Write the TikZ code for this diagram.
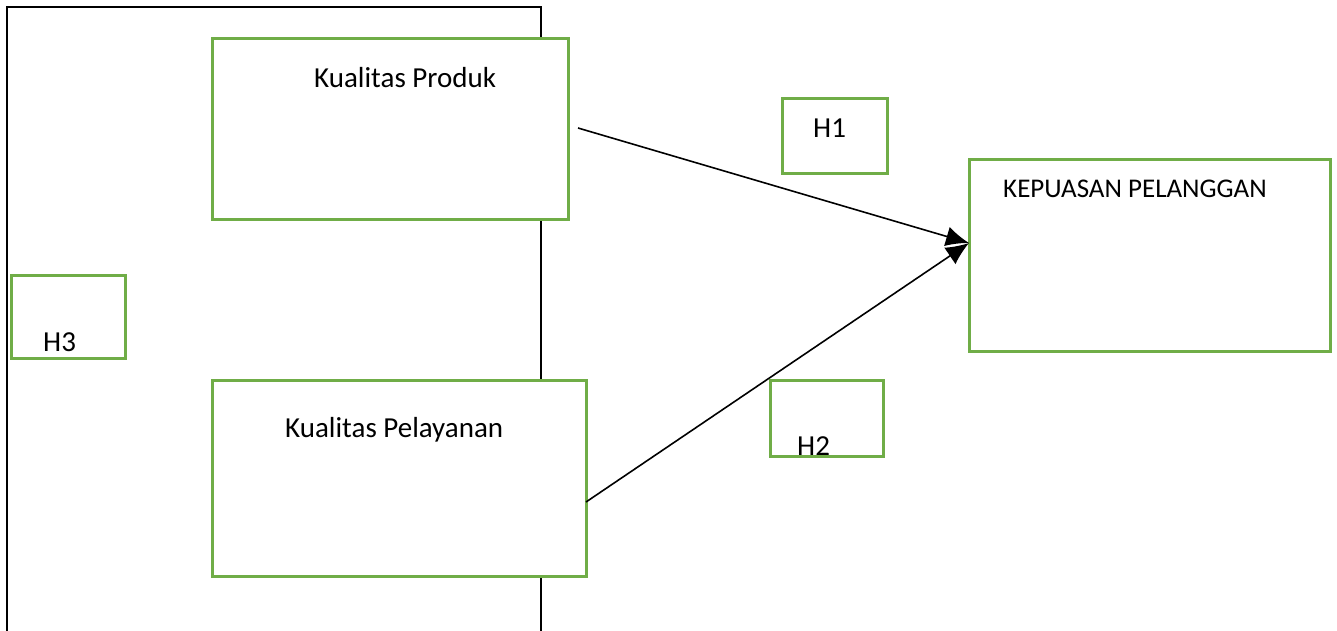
\documentclass[tikz,border=0pt]{standalone}
\usepackage{fontspec}
\setmainfont{Carlito}
\usetikzlibrary{arrows.meta}
\definecolor{boxgreen}{RGB}{112,173,71}
\tikzset{
  gbox/.style={draw=boxgreen, line width=3pt},
  lbl/.style={anchor=base west, inner sep=0pt, font=\fontsize{29}{34}\selectfont},
  conn/.style={draw=black, line width=1.6pt, -{Latex[length=23pt,width=20pt]}},
  frame/.style={draw=black, line width=2pt}
}
\begin{document}
\begin{tikzpicture}[x=1pt,y=-1pt]
\useasboundingbox (0,0) rectangle (1337,631);
% black frame (open at bottom)
\draw[frame] (7,640) -- (7,7) -- (541,7) -- (541,640);
% boxes
\filldraw[gbox, fill=white] (212,39) rectangle (568,219);
\filldraw[gbox, fill=white] (212,380) rectangle (586,576);
\draw[gbox] (782,99) rectangle (887,174);
\draw[gbox] (969,160) rectangle (1330,351);
\draw[gbox] (11,275) rectangle (125,358);
\draw[gbox] (770,380) rectangle (883,456);
% texts
\node[lbl] (tprod) at (314,88) {Kualitas Produk};
\node[lbl] (tpel) at (285,437) {Kualitas Pelayanan};
\node[lbl, font=\fontsize{27}{32}\selectfont] (tkep) at (1003,197) {KEPUASAN PELANGGAN};
\node[lbl] (th1) at (813,138) {H1};
\node[lbl] (th2) at (797,455) {H2};
\node[lbl] (th3) at (43,351) {H3};
% connectors
\coordinate (s1) at (578,128);
\coordinate (s2) at (586,502);
\coordinate (tip) at (969,243);
\draw[conn] (s1) -- (tip);
\draw[conn] (s2) -- (tip);
\end{tikzpicture}
\end{document}
